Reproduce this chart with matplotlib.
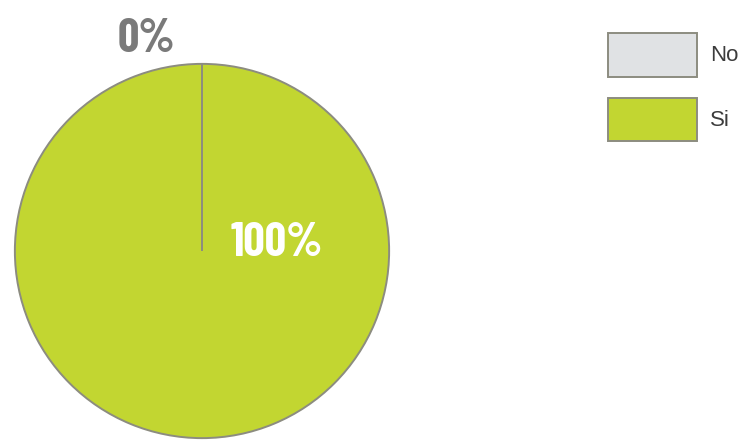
import matplotlib
matplotlib.use("Agg")
import os
import matplotlib.pyplot as plt
from matplotlib import font_manager as fm

categories = ["No", "Si"]
values = [0, 100]
colors = ["#e0e2e4", "#c2d631"]


def find_font(prefs, fallback):
    files = [f.fname for f in fm.fontManager.ttflist]
    for p in prefs:
        for f in files:
            if os.path.basename(f) == p:
                return fm.FontProperties(fname=f)
    return fallback


fig = plt.figure(figsize=(7.44, 4.40), dpi=100)
W, H = 744, 440
cx, cy, r = 202, 251, 189
ax = fig.add_axes([(cx - r) / W, (H - cy - r) / H, 2 * r / W, 2 * r / H])
wedges, _ = ax.pie(values, colors=colors, startangle=90, counterclock=False,
                   wedgeprops=dict(edgecolor="#8c8c80", linewidth=1.4))
wedges[0].set_zorder(3)
ax.set_xlim(-1.01, 1.01)
ax.set_ylim(-1.01, 1.01)
ax.set_aspect("equal")
ax.axis("off")

fp = find_font(["BarlowCondensed-Bold.ttf", "BarlowCondensed-SemiBold.ttf",
                "AsapCondensed-Bold.ttf", "DejaVuSansCondensed-Bold.ttf"],
               fm.FontProperties(family="DejaVu Sans", weight="bold", stretch="condensed"))
fp.set_size(34)
label_pos = [(-0.296, 1.063), (0.40, -0.027)]
label_colors = ["#7a7a7a", "#ffffff"]
for v, (x, y), c in zip(values, label_pos, label_colors):
    ax.text(x, y, f"{v}%", ha="center", va="baseline", fontproperties=fp,
            color=c, clip_on=False)

leg = fig.legend(wedges, categories, loc="upper left",
                 bbox_to_anchor=(608 / W, 1 - 33 / H), frameon=False,
                 handlelength=4.0, handleheight=2.64,
                 labelspacing=0.95, handletextpad=0.6, borderpad=0,
                 borderaxespad=0,
                 prop=dict(family=["Liberation Sans", "DejaVu Sans"], size=16))
for t in leg.get_texts():
    t.set_color("#3c3c3c")

fig.savefig("out.png", dpi=100)
